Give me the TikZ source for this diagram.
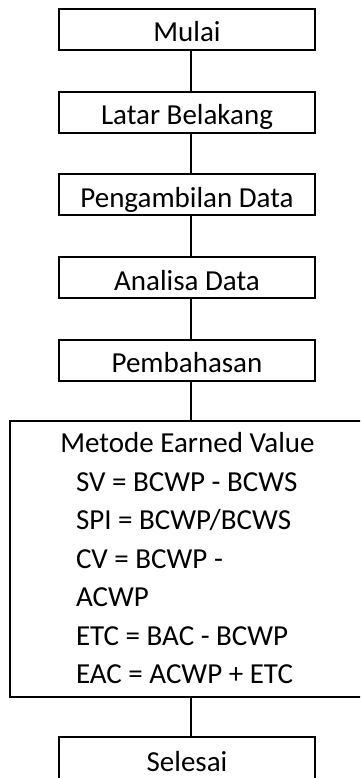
\documentclass[tikz,border=0pt]{standalone}
\usepackage{fontspec}
\setmainfont{Carlito}
\begin{document}
\begin{tikzpicture}[line join=miter, x=.5pt, y=.5pt, line width=1pt,
		every node/.style={font=\fontsize{14.5}{19}\selectfont},
		kotak/.style={draw, inner sep=0pt, minimum width=128pt, minimum height=20.5pt, text height=12.3pt, text depth=0pt},
		baris/.style={inner sep=0pt, anchor=base west}]
	\useasboundingbox (0,0) rectangle (360,778);
	\begin{scope}
	\clip (0,0) rectangle (360,778);
	\coordinate (poros) at (191,0);
	% langkah-langkah
	\foreach \n/\t [count=\i from 0] in {mulai/Mulai, latar/Latar Belakang, ambil/Pengambilan Data, analisa/Analisa Data, bahas/Pembahasan}
	\node[kotak] (\n) at (187,{748.5-82.75*\i}) {\t};
	% kotak earned value (sisi kanan di luar gambar)
	\node[inner sep=0pt, minimum width=190pt, minimum height=136.75pt] (ev) at (201,218.75) {};
	\draw (ev.north east) -- (ev.north west) -- (ev.south west) -- (ev.south east);
	\node[inner sep=0pt, anchor=base] (judul) at (187.5,325.3) {Metode Earned Value};
	\foreach \t [count=\i] in {SV = BCWP - BCWS, {SPI = BCWP/BCWS}, CV = BCWP -, ACWP, ETC = BAC - BCWP, EAC = ACWP + ETC}
	\node[baris] (r\i) at (75,{325.3-38.5*\i}) {\t};
	\node[kotak, minimum height=22pt] (selesai) at (187,19) {Selesai};
	% garis
	\foreach \a/\b in {mulai/latar, latar/ambil, ambil/analisa, analisa/bahas, bahas/ev, ev/selesai}
	\draw (\a.south -| poros) -- (\b.north -| poros);
	\end{scope}
\end{tikzpicture}
\end{document}
